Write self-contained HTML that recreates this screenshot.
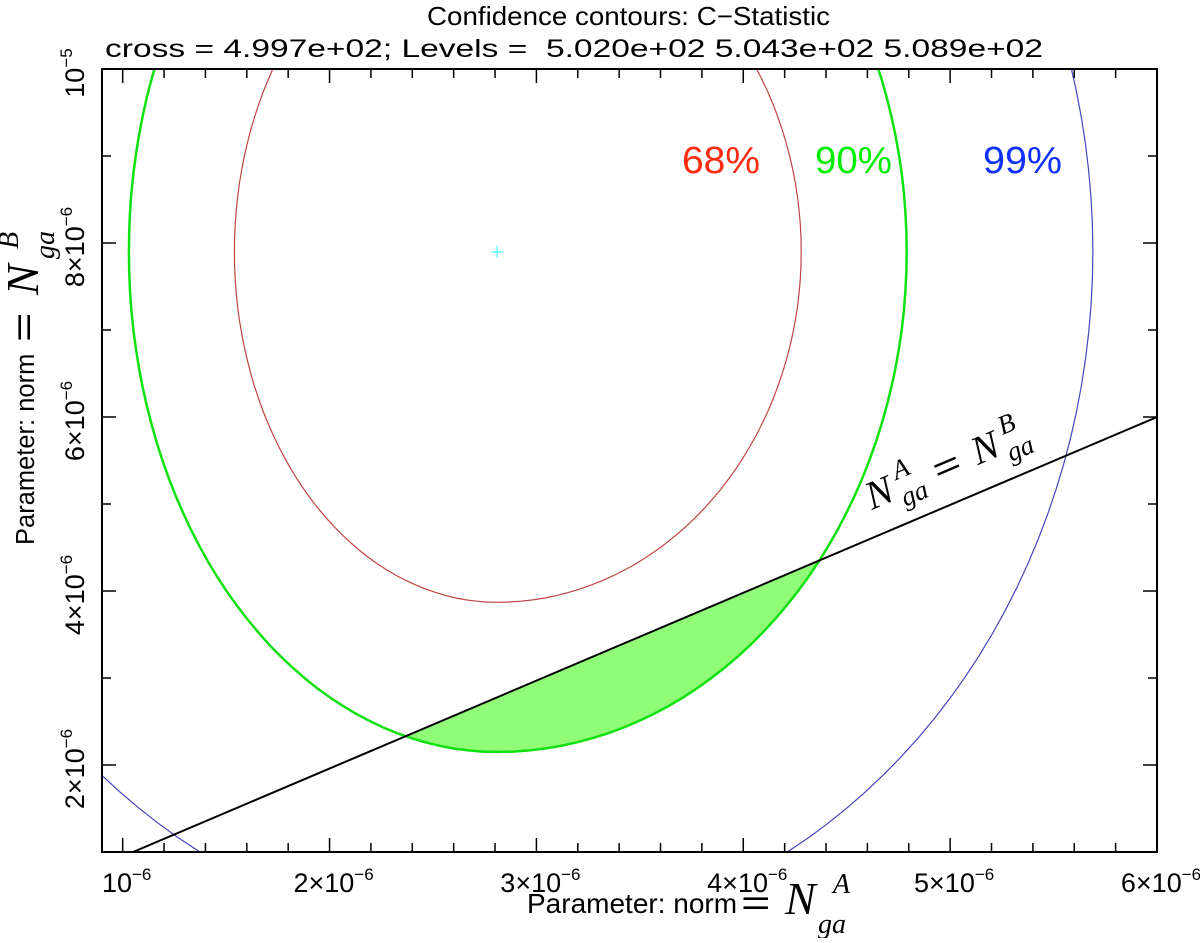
<!DOCTYPE html>
<html><head><meta charset="utf-8"><style>
body{margin:0;background:#fff;}
svg text{font-family:"Liberation Sans",sans-serif;}
.m{font-family:"Liberation Serif",serif;font-style:italic;}
</style></head><body>
<svg id="c" width="1200" height="938">
<text x="427" y="25" font-size="26" textLength="403" lengthAdjust="spacingAndGlyphs">Confidence contours: C−Statistic</text>
<text x="105" y="57" font-size="25" textLength="938" lengthAdjust="spacingAndGlyphs" xml:space="preserve">cross = 4.997e+02; Levels =  5.020e+02 5.043e+02 5.089e+02</text>
<defs><clipPath id="pa"><rect x="102" y="69" width="1055" height="783"/></clipPath></defs>
<g id="marks" clip-path="url(#pa)"></g>
<rect x="102" y="69" width="1055" height="783" fill="none" stroke="#000" stroke-width="2"/>
<g id="ticks"></g>
<text x="682" y="173" font-size="38" fill="#ff2a10" textLength="78" lengthAdjust="spacingAndGlyphs">68%</text>
<text x="815" y="173" font-size="38" fill="#00ee00" textLength="77" lengthAdjust="spacingAndGlyphs">90%</text>
<text x="983" y="173" font-size="38" fill="#1030ff" textLength="79" lengthAdjust="spacingAndGlyphs">99%</text>
<g transform="translate(872,510) rotate(-23)">
 <text x="0" y="0" font-size="40" class="m">N</text>
 <text x="34" y="-18" font-size="27" class="m">A</text>
 <text x="32" y="10" font-size="27" class="m">ga</text>
 <text transform="translate(72,0) scale(1.4,1)" font-size="34" font-family="Liberation Serif">=</text>
 <text x="115" y="0" font-size="40" class="m">N</text>
 <text x="149" y="-18" font-size="27" class="m">B</text>
 <text x="147" y="10" font-size="27" class="m">ga</text>
</g>
<g transform="translate(527,913)">
 <text x="0" y="0" font-size="28">Parameter: norm</text>
 <text transform="translate(214,2) scale(1.4,1)" font-size="36" font-family="Liberation Serif">=</text>
 <text x="258" y="1" font-size="46" class="m">N</text>
 <text x="306" y="-20" font-size="28" class="m">A</text>
 <text x="291" y="20" font-size="28" class="m">ga</text>
</g>
<g transform="translate(34,545) rotate(-90)">
 <text x="0" y="0" font-size="25.5">Parameter: norm</text>
 <text transform="translate(203,2) scale(1.4,1)" font-size="36" font-family="Liberation Serif">=</text>
 <text x="250" y="4" font-size="46" class="m">N</text>
 <text x="296" y="-16" font-size="28" class="m">B</text>
 <text x="286" y="20" font-size="28" class="m">ga</text>
</g>
</svg>
<script>
const xDomain=[0.9e-6,6e-6];
const yDomain=[1e-6,1e-5];
const cross=[2.81e-6,7.9e-6];
const levelNames=['68%','90%','99%'];
const semiXLeft=[1.27e-6,1.78e-6,2.95e-6];
const semiXRight=[1.47e-6,1.98e-6,2.88e-6];
const semiY=[4.03e-6,5.75e-6,7.9e-6];
const levelColors=['#c04444','#11e011','#4444bb'];
const levelWidths=[1.2,2.5,1.2];
const lineX=[1.05e-6,6.05e-6];
const lineY=[1.0e-6,6.05e-6];
const xTicks=[1e-6,2e-6,3e-6,4e-6,5e-6,6e-6];
const xTickLabels=['10','2×10','3×10','4×10','5×10','6×10'];
const yTicks=[2e-6,4e-6,6e-6,8e-6,1e-5];
const yTickLabels=['2×10','4×10','6×10','8×10','10'];
const yTickExp=['−6','−6','−6','−6','−5'];
const L=102,R=1157,T=69,B=852;
const sx=v=>L+(v-xDomain[0])/(xDomain[1]-xDomain[0])*(R-L);
const sy=v=>B-(v-yDomain[0])/(yDomain[1]-yDomain[0])*(B-T);
const NS='http://www.w3.org/2000/svg';
const marks=document.getElementById('marks'),tk=document.getElementById('ticks');
function mk(tag,at,par){const e=document.createElementNS(NS,tag);for(const k in at)e.setAttribute(k,at[k]);(par||marks).appendChild(e);return e;}
function ellPath(i){let d='';for(let k=0;k<=160;k++){const t=k/160*2*Math.PI;const c=Math.cos(t);const a=c>=0?semiXRight[i]:semiXLeft[i];const x=cross[0]+a*c,y=cross[1]+semiY[i]*Math.sin(t);d+=(k?'L':'M')+sx(x).toFixed(1)+','+sy(y).toFixed(1);}return d+'Z';}
const defs=document.querySelector('defs');
const cp=mk('clipPath',{id:'below'},defs);
const slope=(lineY[1]-lineY[0])/(lineX[1]-lineX[0]);
const ly=x=>lineY[0]+slope*(x-lineX[0]);
mk('path',{d:`M${sx(0)},${sy(ly(0))}L${sx(8e-6)},${sy(ly(8e-6))}L${sx(8e-6)},${sy(-5e-6)}L${sx(0)},${sy(-5e-6)}Z`},cp);
const sh=mk('path',{d:ellPath(1),fill:'#90fc78','clip-path':'url(#below)'});


for(let i=0;i<3;i++){
 const p=mk('path',{d:ellPath(i),fill:'none',stroke:levelColors[i],'stroke-width':levelWidths[i]});
 
 
}
const ln=mk('line',{x1:sx(lineX[0]),y1:sy(lineY[0]),x2:sx(lineX[1]),y2:sy(lineY[1]),stroke:'#000','stroke-width':2});


const cr=mk('path',{d:`M${sx(cross[0])-6},${sy(cross[1])}h12M${sx(cross[0])},${sy(cross[1])-6}v12`,stroke:'#66ffff','stroke-width':1.5});


for(let k=5;k<=30;k++){const v=k*0.2e-6;const x=sx(v);const maj=k%5===0;const h=maj?14:9;
 mk('path',{d:`M${x},${B}v-${h}M${x},${T}v${h}`,stroke:'#000','stroke-width':1.5},tk);}
for(let k=1;k<=10;k++){const v=k*1e-6;const y=sy(v);const maj=k%2===0;const h=maj?14:9;
 mk('path',{d:`M${L},${y}h${h}M${R},${y}h-${h}`,stroke:'#000','stroke-width':1.5},tk);}
xTicks.forEach((v,i)=>{const t=mk('text',{x:sx(v)+4,y:892,'font-size':27,'text-anchor':'middle'},tk);t.textContent=xTickLabels[i];
 const s=mk('tspan',{'font-size':17,dy:-12},t);s.textContent='−6';
 
 });
yTicks.forEach((v,i)=>{const t=mk('text',{transform:`translate(84,${sy(v)+4}) rotate(-90)`,'font-size':27,'text-anchor':'middle'},tk);t.textContent=yTickLabels[i];
 const s=mk('tspan',{'font-size':17,dy:-12},t);s.textContent=yTickExp[i];
 
 });
</script>
</body></html>
